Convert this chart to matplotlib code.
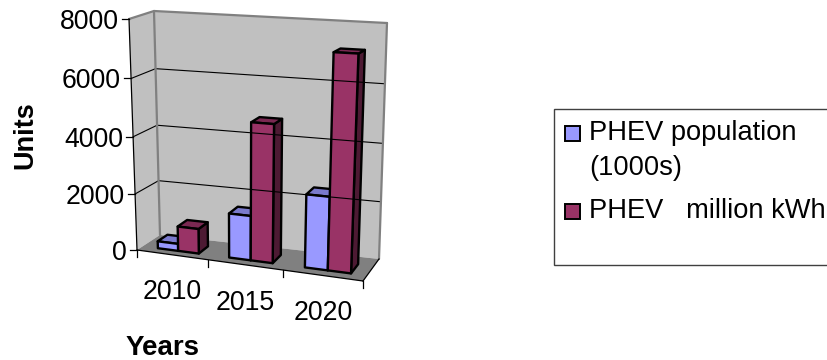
import numpy as np
import matplotlib.pyplot as plt
from matplotlib.patches import Polygon, Rectangle

plt.rcParams['font.family'] = ['Liberation Sans', 'DejaVu Sans']

years = ['2010', '2015', '2020']
population = [250, 1540, 2480]
million_kwh = [870, 4720, 7180]
value_ticks = [0, 2000, 4000, 6000, 8000]

POP_COLORS = ('#9999FF', '#7A7ACC', '#4D4D80')
KWH_COLORS = ('#993366', '#7A2952', '#4D1A33')
WALL = '#C0C0C0'
FLOOR = '#808080'
EDGE = '#808080'

VMAX = 8000.0
BAR_W = 0.097
DEPTH = (0.25, 0.68)

# box corners in pixels, (front/back, left/right, bottom/top)
FLB = np.array([137, 250.])
FLT = np.array([129, 19.])
FRB = np.array([363, 281.])
FRT = np.array([373, 30.])
BLB = np.array([160, 235.])
BLT = np.array([154, 11.])
BRB = np.array([379, 259.])
BRT = np.array([387, 23.])


def proj(u, val, d):
    # trilinear box projection, u across, val up, d into the page
    # the small warps stand in for perspective foreshortening
    u = u * (0.91 + 0.09 * u)
    v = val / VMAX
    v = v * (0.96 + 0.04 * v)
    front = (FLB * (1 - u) + FRB * u) * (1 - v) + (FLT * (1 - u) + FRT * u) * v
    back = (BLB * (1 - u) + BRB * u) * (1 - v) + (BLT * (1 - u) + BRT * u) * v
    return front * (1 - d) + back * d


def draw_bar(ax, u0, u1, val, colors):
    d0, d1 = DEPTH
    front = [proj(u0, 0, d0), proj(u1, 0, d0), proj(u1, val, d0), proj(u0, val, d0)]
    side = [proj(u1, 0, d0), proj(u1, 0, d1), proj(u1, val, d1), proj(u1, val, d0)]
    top = [proj(u0, val, d0), proj(u1, val, d0), proj(u1, val, d1), proj(u0, val, d1)]
    for pts, col in ((side, colors[2]), (top, colors[1]), (front, colors[0])):
        ax.add_patch(Polygon(pts, closed=True, fc=col, ec='black', lw=1.7, joinstyle='round'))


fig = plt.figure(figsize=(8.27, 3.6), dpi=100)
ax = fig.add_axes([0, 0, 1, 1])
ax.set_xlim(0, 827)
ax.set_ylim(360, 0)
ax.axis('off')

# walls and floor
ax.add_patch(Polygon([BLB, BRB, BRT, BLT], closed=True, fc=WALL, ec='none'))
ax.add_patch(Polygon([FLB, BLB, BLT, FLT], closed=True, fc=WALL, ec='none'))
ax.add_patch(Polygon([FLB, FRB, BRB, BLB], closed=True, fc=FLOOR, ec='none'))

# gridlines run along the side wall and then the back wall
for val in value_ticks[1:-1]:
    p = [proj(0, val, 0), proj(0, val, 1), proj(1, val, 1)]
    ax.plot(*zip(*p), color='black', lw=0.8)

for a, b in ((BLB, BLT), (BLT, BRT), (BRT, BRB), (BLT, FLT)):
    ax.plot(*zip(a, b), color=EDGE, lw=1.6, solid_capstyle='round')

for i in range(len(years)):
    mid = (i + 0.5) / len(years)
    draw_bar(ax, mid - BAR_W + 0.004, mid + 0.004, population[i], POP_COLORS)
    draw_bar(ax, mid + 0.004, mid + BAR_W + 0.004, million_kwh[i], KWH_COLORS)

# axis lines and ticks
ax.plot(*zip(FLB, FLT), color='black', lw=0.9)
ax.plot(*zip(FLB, FRB), color='black', lw=0.9)
ax.plot(*zip(FRB, BRB), color='black', lw=0.9)
for val in value_ticks:
    x, y = proj(0, val, 0)
    ax.plot([x - 7, x], [y, y], color='black', lw=0.9)
    ax.text(x - 10, y, str(val), ha='right', va='center_baseline', fontsize=19.2, color='black')

for i in range(len(years) + 1):
    x, y = proj(i / len(years), 0, 0)
    ax.plot([x, x], [y, y + 7], color='black', lw=0.9)

label_x = [172.5, 245, 323]
label_y = [289, 300, 310]
for i in range(len(years)):
    ax.text(label_x[i], label_y[i], years[i], ha='center', va='center_baseline', fontsize=19.2, color='black')

ax.text(25.5, 135, 'Units', rotation=90, ha='center', va='center', fontsize=19.5, fontweight='bold')
ax.text(162.5, 355, 'Years', ha='center', va='baseline', fontsize=20, fontweight='bold')

# legend box runs off the right edge
ax.add_patch(Rectangle((553.5, 108.5), 300, 156, fc='white', ec='#404040', lw=1.0, clip_on=True))
ax.add_patch(Rectangle((564.5, 125.5), 15, 15, fc=POP_COLORS[0], ec='black', lw=1.4))
ax.add_patch(Rectangle((564.5, 203.5), 15, 15, fc=KWH_COLORS[0], ec='black', lw=1.4))
ax.text(589, 140, 'PHEV population', va='baseline', fontsize=19.6)
ax.text(589, 175, '(1000s)', va='baseline', fontsize=19.6)
ax.text(589, 218, 'PHEV   million kWh', va='baseline', fontsize=19.6)

fig.savefig('out.png', dpi=100)
